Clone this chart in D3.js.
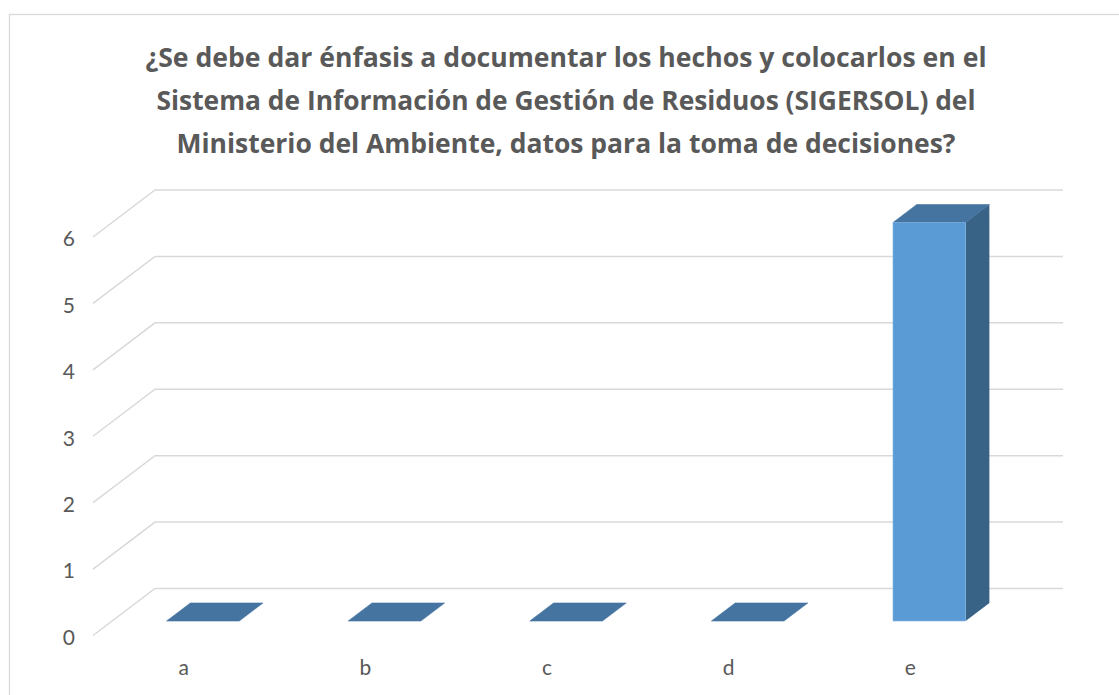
<!DOCTYPE html>
<html>
<head>
<meta charset="utf-8">
<script src="https://cdn.jsdelivr.net/npm/d3@7"></script>
<style>
  body { margin: 0; background: #fff; }
  svg { display: block; font-family: Lato, "Open Sans", sans-serif; font-variant-ligatures: none; }
</style>
</head>
<body>
<div id="chart"></div>
<script>
// data
const categories = ["a", "b", "c", "d", "e"];
const values = [0, 0, 0, 0, 6];
const yTicks = [0, 1, 2, 3, 4, 5, 6];
const titleLines = [
    "¿Se debe dar énfasis a documentar los hechos y colocarlos en el",
    "Sistema de Información de Gestión de Residuos (SIGERSOL) del",
    "Ministerio del Ambiente, datos para la toma de decisiones?"
];
const titleWidths = [841, 819, 779];

const W = 1119, H = 695;
const svg = d3.select("#chart").append("svg")
    .attr("width", W)
    .attr("height", H);

// chart border
svg.append("rect")
    .attr("x", 9.5).attr("y", 14.5)
    .attr("width", W).attr("height", H)
    .attr("fill", "#fff")
    .attr("stroke", "#d9d9d9")
    .attr("stroke-width", 1.3);

// title
const title = svg.append("g")
    .attr("fill", "#595959")
    .attr("font-family", "'Open Sans', sans-serif")
    .attr("font-weight", "bold")
    .attr("font-size", 26)
    .attr("text-anchor", "middle");
title.selectAll("text")
    .data(titleLines)
    .join("text")
    .attr("x", 566)
    .attr("y", (d, i) => 67 + i * 43)
    .attr("textLength", (d, i) => titleWidths[i])
    .attr("lengthAdjust", "spacingAndGlyphs")
    .text(d => d);

// back wall geometry + depth offset (back -> front)
const x0 = 155, plotW = 908;
const depthX = -62, depthY = 47;
const x = d3.scaleBand().domain(categories).range([x0, x0 + plotW]);
const y = d3.scaleLinear().domain([0, 6]).range([588.5, 190]);

// gridlines: diagonal on the side + horizontal on the back
const grid = svg.append("g")
    .attr("fill", "none")
    .attr("stroke", "#d9d9d9")
    .attr("stroke-width", 1.5);
grid.selectAll("path")
    .data(yTicks)
    .join("path")
    .attr("d", d => `M${x0 + depthX},${y(d) + depthY}L${x0},${y(d)}L${x0 + plotW},${y(d)}`);

// y tick labels at the front edge
svg.append("g")
    .attr("fill", "#595959")
    .attr("font-size", 21)
    .attr("text-anchor", "end")
    .selectAll("text")
    .data(yTicks)
    .join("text")
    .attr("x", 75)
    .attr("y", d => y(d) + depthY + 2)
    .attr("dy", "0.35em")
    .text(d => d);

// x labels, centered on front plane bands
svg.append("g")
    .attr("fill", "#595959")
    .attr("font-size", 21)
    .attr("text-anchor", "middle")
    .selectAll("text")
    .data(categories)
    .join("text")
    .attr("x", d => x(d) + x.bandwidth() / 2 + depthX)
    .attr("y", 675)
    .text(d => d);

// 3D bars: bar occupies the middle of the depth
const fBack = 14.5 / 47, fFront = 32.5 / 47;
const barW = x.bandwidth() * 0.4;

const bars = svg.append("g")
    .selectAll("g")
    .data(categories.map((c, i) => ({ cat: c, value: values[i] })))
    .join("g");

bars.each(function(d) {
    const g = d3.select(this);
    const cx = x(d.cat) + x.bandwidth() / 2;
    // front face corners
    const fl = cx - barW / 2 + depthX * fFront;
    const fr = fl + barW;
    const fb = y(0) + depthY * fFront;
    const ft = y(d.value) + depthY * fFront;
    // back offset
    const bx = depthX * (fBack - fFront);
    const by = depthY * (fBack - fFront);

    // top face
    g.append("path")
        .attr("d", `M${fl},${ft}L${fl + bx},${ft + by}L${fr + bx},${ft + by}L${fr},${ft}Z`)
        .attr("fill", "#4574a1")
        .attr("stroke", "#4574a1")
        .attr("stroke-width", 0.6);

    if (d.value > 0) {
        // side face
        g.append("path")
            .attr("d", `M${fr},${ft}L${fr + bx},${ft + by}L${fr + bx},${fb + by}L${fr},${fb}Z`)
            .attr("fill", "#386286");
        // front face
        g.append("rect")
            .attr("x", fl).attr("y", ft)
            .attr("width", barW).attr("height", fb - ft)
            .attr("fill", "#5b9bd5")
            .attr("stroke", "#7fb0df")
            .attr("stroke-width", 0.6);
    }
});
</script>
</body>
</html>
